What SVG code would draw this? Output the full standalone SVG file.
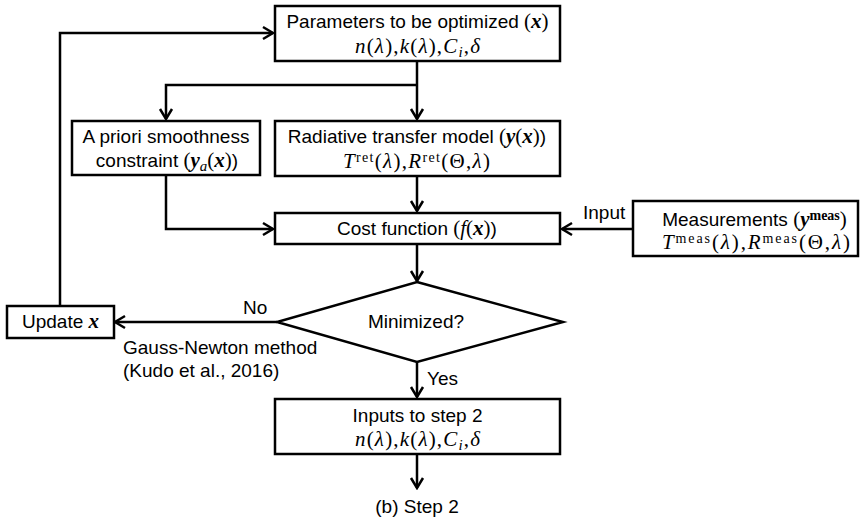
<svg xmlns="http://www.w3.org/2000/svg" width="861" height="521" viewBox="0 0 861 521">
<style>
.box{fill:#fff;stroke:#000;stroke-width:2.5}
.t{font-family:"Liberation Sans",Arial,sans-serif;font-size:19px;fill:#000;text-anchor:middle}
.l{font-family:"Liberation Sans",Arial,sans-serif;font-size:19px;fill:#000}
.m{font-family:"Liberation Serif","Times New Roman",serif;font-size:21px;fill:#000;text-anchor:middle}
.s{font-family:"Liberation Serif","Times New Roman",serif;font-size:21px}
.i{font-style:italic}
.bi{font-style:italic;font-weight:bold}
.sm{font-size:15px}
.sp{font-size:14px}
.c{fill:none;stroke:#000;stroke-width:2.5}
</style>
<defs>
<marker id="ah" viewBox="-12 -8 14 16" refX="0" refY="0" markerWidth="14" markerHeight="16" markerUnits="userSpaceOnUse" orient="auto">
<path d="M-10,-6 L0,0 L-10,6" fill="none" stroke="#000" stroke-width="2.5"/>
</marker>
</defs>
<g id="connectors">
<path class="c" d="M60,306 V33 H273" marker-end="url(#ah)"/>
<path class="c" d="M417,61 V119" marker-end="url(#ah)"/>
<path class="c" d="M417,85 H166 V119" marker-end="url(#ah)"/>
<path class="c" d="M166,175 V229 H273" marker-end="url(#ah)"/>
<path class="c" d="M417,176 V211" marker-end="url(#ah)"/>
<path class="c" d="M633,229 H562" marker-end="url(#ah)"/>
<path class="c" d="M417,244 V281" marker-end="url(#ah)"/>
<path class="c" d="M277,322 H115" marker-end="url(#ah)"/>
<path class="c" d="M417,362 V397" marker-end="url(#ah)"/>
<path class="c" d="M417,454 V488" marker-end="url(#ah)"/>
<text class="l" x="243" y="314">No</text>
<text class="l" x="583" y="219">Input</text>
<text class="l" x="427" y="385">Yes</text>
<text class="l" x="123" y="354">Gauss-Newton method</text>
<text class="l" x="123" y="377">(Kudo et al., 2016)</text>
<text class="t" x="417" y="513">(b) Step 2</text>
</g>
<g id="params">
<rect class="box" x="275" y="6" width="285" height="55"/>
<text class="t" x="417.5" y="28">Parameters to be optimized <tspan class="s">(</tspan><tspan class="s bi">x</tspan><tspan class="s">)</tspan></text>
<text class="m" x="417.5" y="53" textLength="125"><tspan class="i">n</tspan>(<tspan class="i">λ</tspan>),<tspan class="i">k</tspan>(<tspan class="i">λ</tspan>),<tspan class="i">C</tspan><tspan class="i sm" dy="4">i</tspan><tspan dy="-4">,</tspan><tspan class="i">δ</tspan></text>
</g>
<g id="apriori">
<rect class="box" x="72" y="121" width="188" height="54"/>
<text class="t" x="166" y="143">A priori smoothness</text>
<text class="t" x="167" y="167">constraint <tspan class="s">(</tspan><tspan class="s bi">y</tspan><tspan class="s i sm" dy="4">a</tspan><tspan class="s" dy="-4">(</tspan><tspan class="s bi">x</tspan><tspan class="s">)</tspan>)</text>
</g>
<g id="rtm">
<rect class="box" x="275" y="121" width="285" height="55"/>
<text class="t" x="417" y="143">Radiative transfer model <tspan class="s">(</tspan><tspan class="s bi">y</tspan><tspan class="s">(</tspan><tspan class="s bi">x</tspan><tspan class="s">)</tspan>)</text>
<text class="m" x="416.5" y="168" textLength="147"><tspan class="i">T</tspan><tspan class="sp" dy="-6">ret</tspan><tspan dy="6">(</tspan><tspan class="i">λ</tspan>),<tspan class="i">R</tspan><tspan class="sp" dy="-6">ret</tspan><tspan dy="6">(Θ,</tspan><tspan class="i">λ</tspan>)</text>
</g>
<g id="cost">
<rect class="box" x="275" y="213" width="285" height="31"/>
<text class="t" x="417" y="235">Cost function <tspan class="s">(</tspan><tspan class="s i">f</tspan><tspan class="s">(</tspan><tspan class="s bi">x</tspan><tspan class="s">)</tspan>)</text>
</g>
<g id="measurements">
<rect class="box" x="633" y="201" width="225" height="55"/>
<text class="t" x="754.5" y="226">Measurements <tspan class="s">(</tspan><tspan class="s bi">y</tspan><tspan class="s sp" font-weight="bold" dy="-6">meas</tspan><tspan class="s" dy="6">)</tspan></text>
<text class="m" x="756" y="249" textLength="188"><tspan class="i">T</tspan><tspan class="sp" dy="-6">meas</tspan><tspan dy="6">(</tspan><tspan class="i">λ</tspan>),<tspan class="i">R</tspan><tspan class="sp" dy="-6">meas</tspan><tspan dy="6">(Θ,</tspan><tspan class="i">λ</tspan>)</text>
</g>
<g id="decision">
<polygon class="box" points="417,282 563,322 417,362 277,322"/>
<text class="t" x="416" y="328">Minimized?</text>
</g>
<g id="update">
<rect class="box" x="7" y="306" width="107" height="32"/>
<text class="l" x="22" y="328">Update <tspan class="s bi">x</tspan></text>
</g>
<g id="inputs">
<rect class="box" x="275" y="399" width="285" height="55"/>
<text class="t" x="417.5" y="422">Inputs to step 2</text>
<text class="m" x="417.5" y="446" textLength="125"><tspan class="i">n</tspan>(<tspan class="i">λ</tspan>),<tspan class="i">k</tspan>(<tspan class="i">λ</tspan>),<tspan class="i">C</tspan><tspan class="i sm" dy="4">i</tspan><tspan dy="-4">,</tspan><tspan class="i">δ</tspan></text>
</g>
</svg>
